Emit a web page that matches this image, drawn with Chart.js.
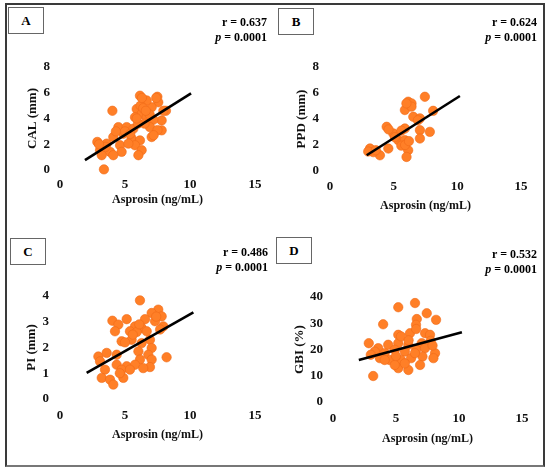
<!DOCTYPE html>
<html>
<head>
<meta charset="utf-8">
<script src="https://cdn.jsdelivr.net/npm/chart.js@4.4.1/dist/chart.umd.min.js"></script>
<style>
  html, body { margin: 0; padding: 0; background: #fff; }
  #fig { position: relative; width: 550px; height: 474px; overflow: hidden; }
  .frame { position: absolute; left: 5px; top: 3px; width: 536px; height: 460px;
           border: 2px solid #3a3a3a; border-bottom-color: #777; }
  .panel { position: absolute; width: 275px; height: 237px; }
  .tag { position: absolute; width: 36px; height: 27px; border: 1px solid #666; box-sizing: border-box;
         font: bold 13px "Liberation Serif", serif; line-height: 25px; text-align: center; background: #fff; }
  .stat { position: absolute; text-align: right; font: bold 12px "Liberation Serif", serif; line-height: 15px; }
</style>
</head>
<body>
<div id="fig">
  <div class="frame"></div>
</div>
<script>
// Panel labels and statistics
const panelTags = ['A', 'B', 'C', 'D'];
const rValues = ['0.637', '0.624', '0.486', '0.532'];
const pValues = ['0.0001', '0.0001', '0.0001', '0.0001'];
const yTitles = ['CAL (mm)', 'PPD (mm)', 'PI (mm)', 'GBI (%)'];
const xTitle = 'Asprosin (ng/mL)';

// Axis ranges
const xTicks = [0, 5, 10, 15];
const yMax = [8, 8, 4, 40];
const yStep = [2, 2, 1, 10];

// A: CAL vs asprosin
const aspA = [4.03, 3.38, 6.15, 7.49, 7.56, 6.54, 5.9, 7.05, 8.15, 6.28, 5.77, 6.67, 7.82, 7.18, 4.49, 5.13, 5.64,
  6.92, 7.82, 7.05, 4.87, 4.1, 5.51, 6.15, 2.87, 3.59, 4.62, 5.77, 3.08, 3.85, 4.74, 6.28, 6.03, 3.21, 4.1, 5.26,
  7.5, 6.5, 6.67, 7.4, 7.95, 7.2, 6.2, 6.4, 5.0, 3.5, 5.4, 6.9, 6.0, 6.3, 4.3, 3.0, 5.9, 6.6];
const calA = [4.6, 0.05, 5.77, 5.69, 5.26, 5.38, 4.74, 4.87, 4.6, 4.36, 4.1, 4.1, 3.85, 3.9, 3.33, 3.33, 3.2,
  3.33, 3.08, 2.56, 2.82, 2.56, 2.44, 2.3, 2.18, 2.05, 1.92, 1.92, 1.54, 1.41, 1.41, 1.54, 1.15, 1.15, 1.15, 2.05,
  3.1, 3.6, 5.4, 5.6, 4.6, 2.7, 5.0, 4.8, 3.0, 1.8, 2.8, 4.3, 3.6, 5.6, 3.0, 2.0, 4.0, 4.6];
const fitA = [[1.92, 0.77], [10.08, 5.95]];

// B: PPD vs asprosin
const aspB = [7.45, 6.14, 6.4, 5.88, 8.1, 6.54, 7.06, 4.45, 5.88, 7.06, 7.84, 4.97, 7.06, 5.36, 5.88, 4.58, 6.14,
  3.14, 3.92, 6.01, 3.4, 5.6, 5.1, 5.6, 6.4, 4.6, 6.0, 6.9, 5.9, 3.0, 3.6, 6.2];
const ppdB = [5.71, 5.33, 5.2, 4.69, 4.63, 4.17, 4.05, 3.4, 3.27, 3.14, 3.01, 2.89, 2.5, 2.37, 2.37, 1.73, 1.6,
  1.73, 1.21, 1.08, 1.45, 1.95, 2.6, 3.1, 4.95, 3.2, 5.2, 3.9, 2.0, 1.5, 1.6, 2.3];
const fitB = [[2.88, 1.21], [10.2, 5.77]];

// C: PI vs asprosin
const aspC = [6.15, 4.03, 5.13, 4.49, 4.23, 7.56, 7.05, 7.82, 6.54, 7.31, 5.77, 6.28, 7.95, 5.38, 6.67, 7.7, 4.74,
  5.51, 6.92, 6.28, 6.03, 7.05, 2.95, 3.59, 4.36, 6.79, 8.2, 3.08, 6.15, 7.05, 5.13, 5.77, 3.46, 4.36, 4.74, 6.92,
  5.38, 3.21, 3.85, 4.87, 4.1, 4.6, 6.4, 7.4, 5.9, 6.1, 5.6, 5.0];
const piC = [3.83, 3.04, 3.1, 2.89, 2.63, 3.47, 3.34, 3.21, 3.1, 3.02, 2.82, 2.76, 2.82, 2.63, 2.63, 2.7, 2.24,
  2.3, 2.3, 2.17, 1.85, 1.98, 1.65, 1.79, 1.72, 1.72, 1.62, 1.46, 1.53, 1.53, 1.27, 1.33, 1.14, 1.33, 1.14, 1.24,
  1.14, 0.82, 0.75, 0.82, 0.56, 1.0, 1.2, 3.2, 2.6, 2.9, 2.5, 2.2];
const fitC = [[2.05, 1.01], [10.26, 3.36]];

// D: GBI vs asprosin
const aspD = [6.51, 5.18, 3.98, 7.44, 8.18, 6.65, 6.59, 5.18, 6.11, 7.31, 7.7, 2.84, 3.59, 4.38, 5.18, 5.98, 7.04,
  7.75, 3.32, 4.1, 4.9, 5.7, 6.6, 7.3, 8.1, 3.72, 4.5, 5.4, 6.2, 7.1, 7.97, 5.18, 5.98, 6.91, 3.19, 5.7, 4.9, 4.1,
  6.5, 6.6, 7.9, 5.4, 3.0, 5.0, 6.0];
const gbiD = [37.7, 36.1, 29.6, 33.8, 31.3, 31.6, 29.4, 25.6, 26.2, 26.2, 25.6, 22.4, 20.5, 21.8, 22.4, 21.8, 22.4,
  23.3, 19.2, 18.6, 19.9, 19.2, 19.9, 20.5, 18.6, 16.7, 16.0, 16.0, 16.7, 17.3, 16.7, 12.9, 12.2, 14.1, 9.9, 14.7,
  14.1, 16.0, 18.6, 27.8, 21.5, 25.0, 18.0, 17.5, 23.5];
const fitD = [[2.05, 16.0], [10.23, 26.6]];

const xs = [aspA, aspB, aspC, aspD];
const ys = [calA, ppdB, piC, gbiD];
const fits = [fitA, fitB, fitC, fitD];

// layout of each panel (page pixels)
const layout = [
  { ox: 0,   oy: 0,   l: 60,  r: 255, t: 67,  b: 170, yTitleX: 33,  xTitleY: 200,   yPad: 10, xPad: 7,
    tag: [8, 7],    stat: [267, 15] },
  { ox: 275, oy: 0,   l: 330, r: 521, t: 67,  b: 171, yTitleX: 302, xTitleY: 206,   yPad: 11, xPad: 8,
    tag: [278, 8],  stat: [537, 15] },
  { ox: 0,   oy: 237, l: 60,  r: 255, t: 296, b: 399, yTitleX: 32,  xTitleY: 435,   yPad: 11, xPad: 8.5,
    tag: [10, 238], stat: [268, 245] },
  { ox: 275, oy: 237, l: 333, r: 522, t: 297, b: 402, yTitleX: 300, xTitleY: 438.5, yPad: 10, xPad: 9,
    tag: [276, 237], stat: [537, 247] }
];

const fig = document.getElementById('fig');
const tickFont = { family: 'Liberation Serif', size: 13, weight: 'bold' };

function buildPanel(i) {
  const L = layout[i];
  const box = document.createElement('div');
  box.className = 'panel';
  box.style.left = L.ox + 'px';
  box.style.top = L.oy + 'px';
  const canvas = document.createElement('canvas');
  box.appendChild(canvas);
  fig.appendChild(box);

  const tag = document.createElement('div');
  tag.className = 'tag';
  tag.style.left = L.tag[0] + 'px';
  tag.style.top = L.tag[1] + 'px';
  tag.textContent = panelTags[i];
  fig.appendChild(tag);

  const stat = document.createElement('div');
  stat.className = 'stat';
  stat.style.right = (550 - L.stat[0]) + 'px';
  stat.style.top = L.stat[1] + 'px';
  stat.innerHTML = 'r = ' + rValues[i] + '<br><i>p</i> = ' + pValues[i];
  fig.appendChild(stat);

  const pts = xs[i].map((x, k) => ({ x: x, y: ys[i][k] }));
  const line = fits[i].map(p => ({ x: p[0], y: p[1] }));

  new Chart(canvas, {
    type: 'scatter',
    data: {
      datasets: [{
        data: pts,
        backgroundColor: '#ff7f27',
        borderColor: '#f06a18',
        borderWidth: 0.6,
        pointRadius: 4.7,
        clip: false,
        order: 2
      }, {
        type: 'line',
        data: line,
        borderColor: '#000',
        borderWidth: 2.6,
        pointRadius: 0,
        fill: false,
        clip: false,
        order: 1
      }]
    },
    options: {
      responsive: true,
      maintainAspectRatio: false,
      animation: false,
      events: [],
      layout: { padding: { left: 0, top: L.t - L.oy, right: L.ox + 275 - L.r, bottom: 0 } },
      plugins: { legend: { display: false }, tooltip: { enabled: false } },
      scales: {
        x: {
          type: 'linear',
          min: xTicks[0],
          max: xTicks[xTicks.length - 1],
          afterBuildTicks: s => { s.ticks = xTicks.map(v => ({ value: v })); },
          afterFit: s => { s.height = L.oy + 237 - L.b; },
          grid: { display: false, drawTicks: false },
          border: { display: false },
          ticks: { color: '#111', font: tickFont, padding: L.xPad, maxRotation: 0 },
          title: {
            display: true,
            text: xTitle,
            color: '#111',
            font: { family: 'Liberation Serif', size: 12, weight: 'bold' },
            padding: { top: 0, bottom: L.oy + 237 - L.xTitleY - 7.2 }
          }
        },
        y: {
          type: 'linear',
          min: 0,
          max: yMax[i],
          ticks: { stepSize: yStep[i], color: '#111', font: tickFont, padding: L.yPad },
          afterFit: s => { s.width = L.l - L.ox; },
          grid: { display: false, drawTicks: false },
          border: { display: false },
          title: {
            display: true,
            text: yTitles[i],
            color: '#111',
            font: { family: 'Liberation Serif', size: 13, weight: 'bold' },
            padding: { top: L.yTitleX - L.ox - 7.8, bottom: 0 }
          }
        }
      }
    }
  });
}

for (let i = 0; i < 4; i++) buildPanel(i);
</script>
</body>
</html>
